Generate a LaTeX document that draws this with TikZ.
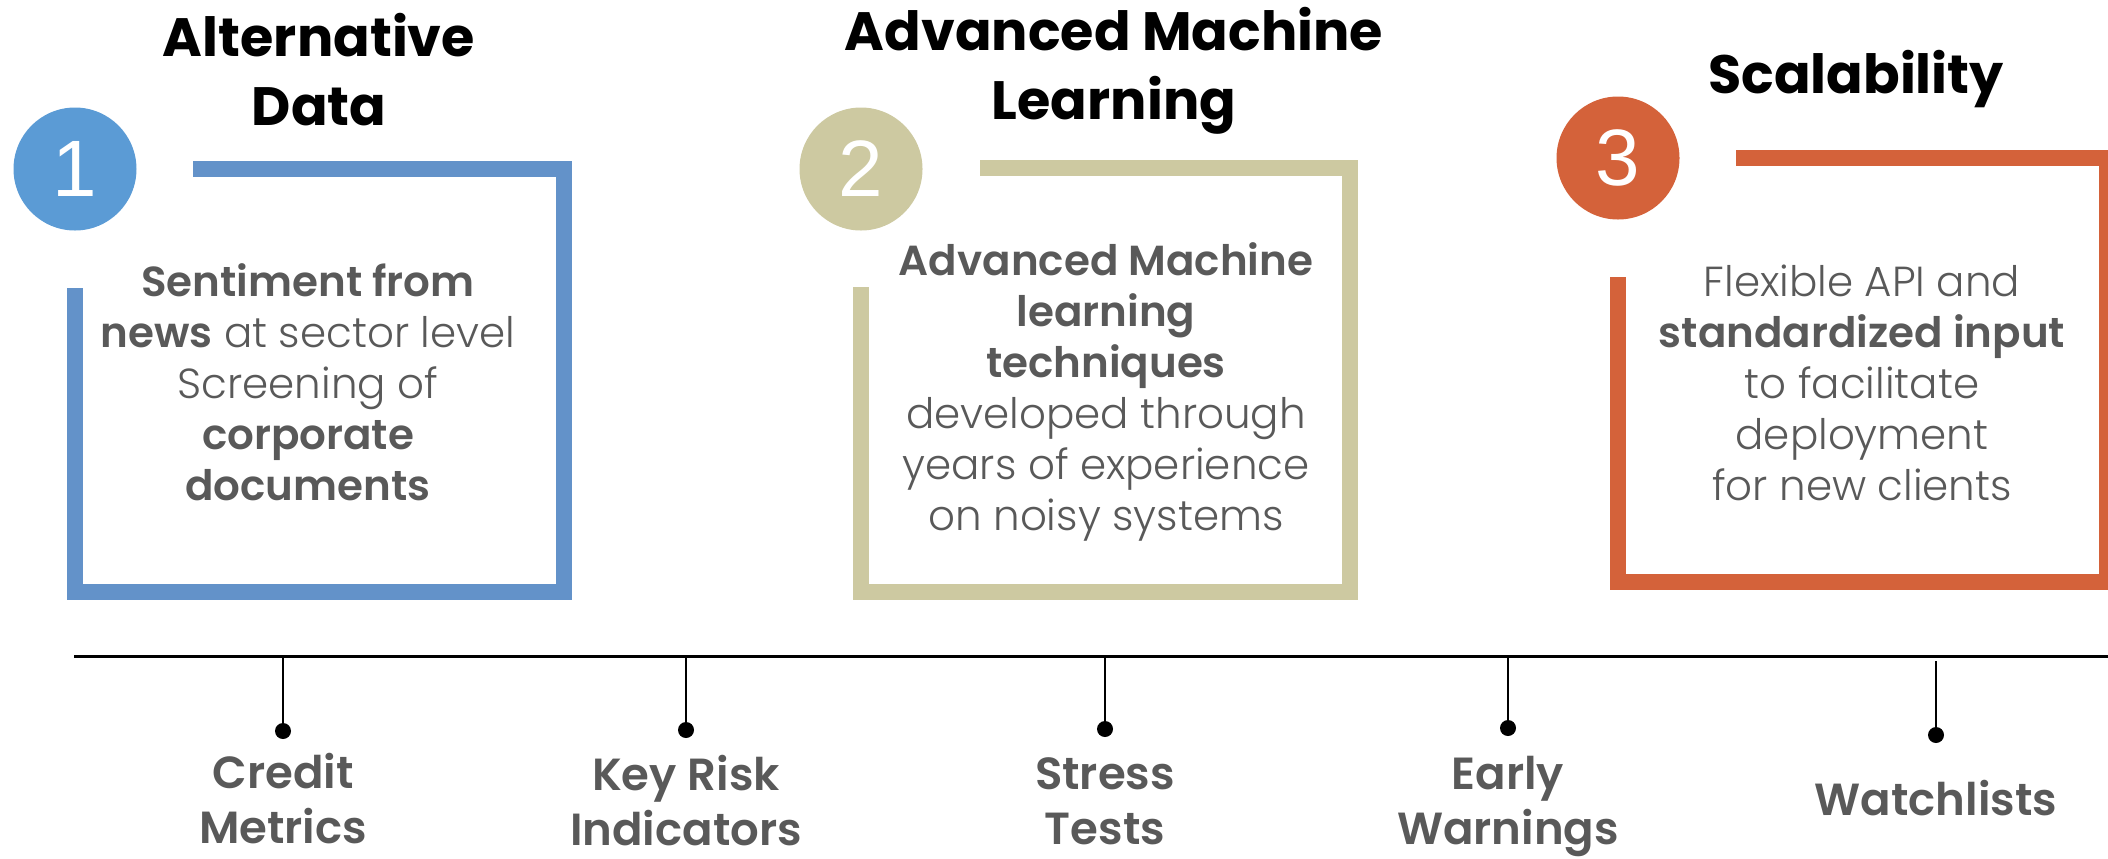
\documentclass[tikz,border=0pt]{standalone}
\usepackage{fontspec}
\setmainfont{Poppins}[UprightFont={* Light}, BoldFont={* SemiBold}]
\newfontfamily\headfont{Poppins}[UprightFont={* Bold}]
\newfontfamily\numfont{Liberation Sans}

\definecolor{boxblue}{RGB}{99,146,201}
\definecolor{dotblue}{RGB}{91,155,213}
\definecolor{boxtan}{RGB}{205,201,161}
\definecolor{boxorange}{RGB}{212,98,58}
\definecolor{txtgray}{RGB}{89,89,89}

\tikzset{
  boxframe/.style={line width=8pt, line join=miter},
  numcircle/.style={circle, minimum size=61.5pt, inner sep=0pt, text=white,
    font=\numfont\fontsize{40}{40}\selectfont},
  heading/.style={align=center, anchor=base, inner sep=0pt, font=\headfont\fontsize{27}{34.5}\selectfont},
  blurb/.style={align=center, anchor=base, inner sep=0pt, text=txtgray, font=\fontsize{21}{25.5}\selectfont},
  tickdot/.style={circle, fill=black, inner sep=0pt, minimum size=8pt},
  ticklabel/.style={align=center, anchor=base, inner sep=0pt, text=txtgray, font=\bfseries\fontsize{22.5}{27.5}\selectfont},
}

\begin{document}
\begin{tikzpicture}[x=0.5pt, y=-0.5pt]

  \useasboundingbox (0,0) rectangle (2108,858);

  % the three frames
  \draw[boxframe, boxblue] (193,169) -- (563.5,169) -- (563.5,592) -- (75,592) -- (75,288);
  \draw[boxframe, boxtan] (980,168) -- (1350,168) -- (1350,592) -- (861,592) -- (861,287);
  \draw[boxframe, boxorange] (1736,158) -- (2107,158) -- (2107,582) -- (1618,582) -- (1618,277);

  \node[numcircle, fill=dotblue] (one) at (75,169) {1};
  \node[numcircle, fill=boxtan] (two) at (861,169) {2};
  \node[numcircle, fill=boxorange] (three) at (1618,158) {3};

  % base anchor sits on the last line
  \node[heading] (altdata) at (319,125) {Alternative\\Data};
  \node[heading] (advml) at (1114,119) {Advanced Machine\\Learning};
  \node[heading] (scal) at (1856,93) {Scalability};

  \node[blurb] (sentiment) at (308,500)
    {\textbf{Sentiment from}\\\textbf{news} at sector level\\Screening of\\\textbf{corporate}\\\textbf{documents}};
  \node[blurb] (techniques) at (1106,530)
    {\textbf{Advanced Machine}\\\textbf{learning}\\\textbf{techniques}\\developed through\\years of experience\\on noisy systems};
  \node[blurb] (api) at (1862,500)
    {Flexible API and\\\textbf{standardized input}\\to facilitate\\deployment\\for new clients};

  % timeline
  \coordinate (tstart) at (74,656);
  \coordinate (tend) at (2108,656);
  \draw[line width=1.5pt] (tstart) -- (tend);

  \coordinate (top1) at (283,656);
  \coordinate (top2) at (686,656);
  \coordinate (top3) at (1105,656);
  \coordinate (top4) at (1508,656);
  \coordinate (top5) at (1936,661);

  \node[tickdot] (dot1) at (283,731) {};
  \node[tickdot] (dot2) at (686,730) {};
  \node[tickdot] (dot3) at (1105,729) {};
  \node[tickdot] (dot4) at (1508,728) {};
  \node[tickdot] (dot5) at (1936,735) {};

  \draw[line width=1.2pt] (top1) -- (dot1);
  \draw[line width=1.2pt] (top2) -- (dot2);
  \draw[line width=1.2pt] (top3) -- (dot3);
  \draw[line width=1.2pt] (top4) -- (dot4);
  \draw[line width=1.2pt] (top5) -- (dot5);

  \node[ticklabel] (credit) at (283,843) {Credit\\Metrics};
  \node[ticklabel] (kri) at (686,845) {Key Risk\\Indicators};
  \node[ticklabel] (stress) at (1105,844) {Stress\\Tests};
  \node[ticklabel] (early) at (1508,844) {Early\\Warnings};
  \node[ticklabel] (watch) at (1936,815) {Watchlists};

\end{tikzpicture}
\end{document}
